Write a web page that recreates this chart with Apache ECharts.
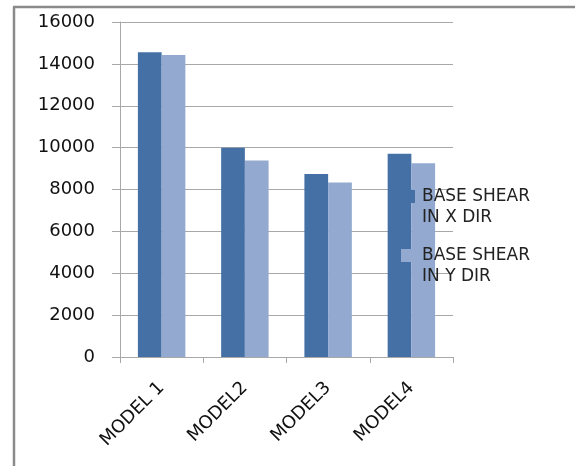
<!DOCTYPE html>
<html>
<head>
<meta charset="utf-8">
<script src="https://cdn.jsdelivr.net/npm/echarts@6/dist/echarts.min.js"></script>
<style>html,body{margin:0;padding:0;background:#fff;}#c{width:575px;height:466px;}</style>
</head>
<body>
<div id="c"></div>
<script>
var categories = ['MODEL 1', 'MODEL2', 'MODEL3', 'MODEL4'];
var seriesNames = ['BASE SHEAR\nIN X DIR', 'BASE SHEAR\nIN Y DIR'];
var baseShearX = [14550, 10000, 8740, 9710];
var baseShearY = [14420, 9380, 8330, 9250];
var yTicks = {min: 0, max: 16000, interval: 2000};

var chart = echarts.init(document.getElementById('c'), null, {renderer: 'canvas'});
var gridColor = '#a8a8a8';
var font = 'DejaVu Sans';
chart.setOption({
  animation: false,
  backgroundColor: '#ffffff',
  graphic: [
    {type: 'line', shape: {x1: 13, y1: 7, x2: 575, y2: 7}, style: {stroke: '#8a8a8a', lineWidth: 2.5}},
    {type: 'line', shape: {x1: 14, y1: 7, x2: 14, y2: 466}, style: {stroke: '#8a8a8a', lineWidth: 2.5}}
  ],
  grid: {left: 120, right: 122, top: 22, bottom: 109, containLabel: false},
  legend: {
    orient: 'vertical',
    left: 401,
    top: 165,
    padding: 0,
    itemWidth: 14,
    itemHeight: 13,
    itemGap: -4,
    icon: 'rect',
    formatter: function (name) {
      var parts = name.split('\n');
      return '{g| }\n{t|' + parts[0] + '}\n{t|' + parts[1] + '}';
    },
    textStyle: {
      fontFamily: font, fontSize: 17, color: '#222',
      rich: {
        g: {fontFamily: font, fontSize: 17, height: 21, lineHeight: 21, padding: [0, 0, 0, 2]},
        t: {fontFamily: font, fontSize: 17, color: '#222', lineHeight: 21, height: 21, padding: [0, 0, 0, 2]}
      }
    },
    data: seriesNames
  },
  xAxis: {
    type: 'category',
    data: categories,
    axisLine: {lineStyle: {color: gridColor, width: 1}},
    axisTick: {show: true, length: 6, lineStyle: {color: gridColor}},
    axisLabel: {rotate: 45, margin: 28, fontFamily: font, fontSize: 18, color: '#111', interval: 0}
  },
  yAxis: {
    type: 'value',
    min: yTicks.min,
    max: yTicks.max,
    interval: yTicks.interval,
    axisLine: {show: true, lineStyle: {color: gridColor, width: 1}},
    axisTick: {show: true, length: 8, lineStyle: {color: gridColor}},
    splitLine: {show: true, lineStyle: {color: gridColor, width: 1}},
    axisLabel: {margin: 25, fontFamily: font, fontSize: 18, color: '#111', formatter: function (v) { return String(v); }}
  },
  series: [
    {name: seriesNames[0], type: 'bar', data: baseShearX, barGap: '0%', barCategoryGap: '43%', itemStyle: {color: '#4470a6'}},
    {name: seriesNames[1], type: 'bar', data: baseShearY, barGap: '0%', barCategoryGap: '43%', itemStyle: {color: '#93a9d0'}}
  ]
});
</script>
</body>
</html>
